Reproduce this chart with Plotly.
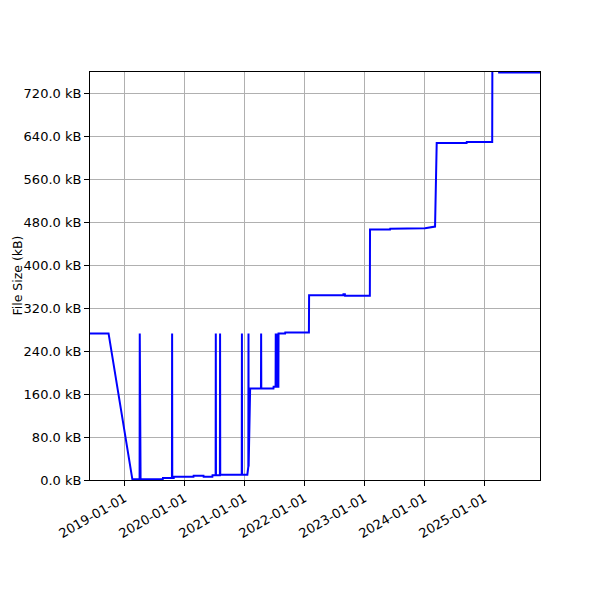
import plotly.graph_objects as go

# file size history (kB)
dates = [
    "2018-06-05", "2018-09-26", "2019-02-18",
    "2019-04-03", "2019-04-04", "2019-04-05", "2019-04-07", "2019-04-08", "2019-04-09",
    "2019-08-22", "2019-08-23",
    "2019-10-17", "2019-10-18", "2019-10-19",
    "2019-10-28", "2019-10-29",
    "2020-02-25", "2020-02-26",
    "2020-04-26", "2020-04-27",
    "2020-06-19", "2020-06-20",
    "2020-07-09", "2020-07-10", "2020-07-11",
    "2020-08-04", "2020-08-05", "2020-08-06",
    "2020-12-15", "2020-12-16", "2020-12-17",
    "2021-01-18", "2021-01-20",
    "2021-01-24", "2021-01-25", "2021-01-26",
    "2021-02-04",
    "2021-04-11", "2021-04-12", "2021-04-13",
    "2021-06-26", "2021-06-27",
    "2021-07-09", "2021-07-10", "2021-07-11",
    "2021-07-21", "2021-07-22", "2021-07-23",
    "2021-07-26", "2021-07-27",
    "2021-09-05", "2021-09-06",
    "2022-01-28", "2022-01-29",
    "2022-08-25", "2022-08-26", "2022-09-04", "2022-09-05",
    "2023-02-03", "2023-02-04",
    "2023-06-06", "2023-06-07",
    "2024-01-05", "2024-03-06", "2024-03-16",
    "2024-09-14", "2024-09-15",
    "2025-02-17", "2025-02-18",
    "2025-03-30", "2025-03-31", "2025-12-05",
]
sizes_kb = [
    273, 273, 1.3,
    1.3, 273, 1.3, 1.3, 273, 1.3,
    1.3, 3.7,
    3.7, 273, 3.7,
    3.7, 6.0,
    6.0, 8.0,
    8.0, 6.0,
    6.0, 8.7,
    8.7, 273, 8.7,
    8.7, 273, 9.8,
    9.8, 273, 9.8,
    9.8, 25,
    25, 273, 25,
    170.6,
    170.6, 273, 170.6,
    170.6, 173.6,
    173.6, 273, 173.6,
    173.6, 273, 173.6,
    173.6, 273,
    273, 274.7,
    274.7, 344.2,
    344.2, 346, 346, 343.2,
    343.2, 466.4,
    466.4, 468,
    469, 472, 627.6,
    627.6, 629.5,
    629.5, 775,
    775, 759, 759,
]

ytick_vals = [0, 80, 160, 240, 320, 400, 480, 560, 640, 720]
ytick_text = [f"{v:.1f} kB" for v in ytick_vals]

fig = go.Figure()
fig.add_trace(
    go.Scatter(x=dates, y=sizes_kb, mode="lines",
               line=dict(color="#0000ff", width=2)))

axis_style = dict(
    showline=True, linecolor="black", linewidth=1, mirror=True,
    ticks="outside", ticklen=5, tickcolor="black",
    showgrid=True, gridcolor="#b0b0b0", gridwidth=1,
    zeroline=False, automargin=False,
    tickfont=dict(family="DejaVu Sans", size=13, color="black"),
)

# page body has an 8px margin, so margins are shifted to line up
fig.update_layout(
    width=600, height=600,
    margin=dict(l=82, r=68, t=64, b=128),
    plot_bgcolor="white", paper_bgcolor="white",
    showlegend=False,
    xaxis=dict(
        type="date",
        range=["2018-06-05", "2025-12-05"],
        tick0="2019-01-01", dtick="M12",
        tickformat="%Y-%m-%d", tickangle=-30,
        **axis_style),
    yaxis=dict(
        range=[0, 760],
        tickvals=ytick_vals, ticktext=ytick_text,
        **axis_style),
    # y title as an annotation so it sits at the far left like the original
    annotations=[dict(
        text="File Size (kB)", textangle=-90,
        xref="paper", yref="paper", x=-0.182, y=0.5,
        xanchor="left", yanchor="middle", showarrow=False,
        borderpad=0,
        font=dict(family="DejaVu Sans", size=12.5, color="black"))],
)

fig.write_html("out.html")
